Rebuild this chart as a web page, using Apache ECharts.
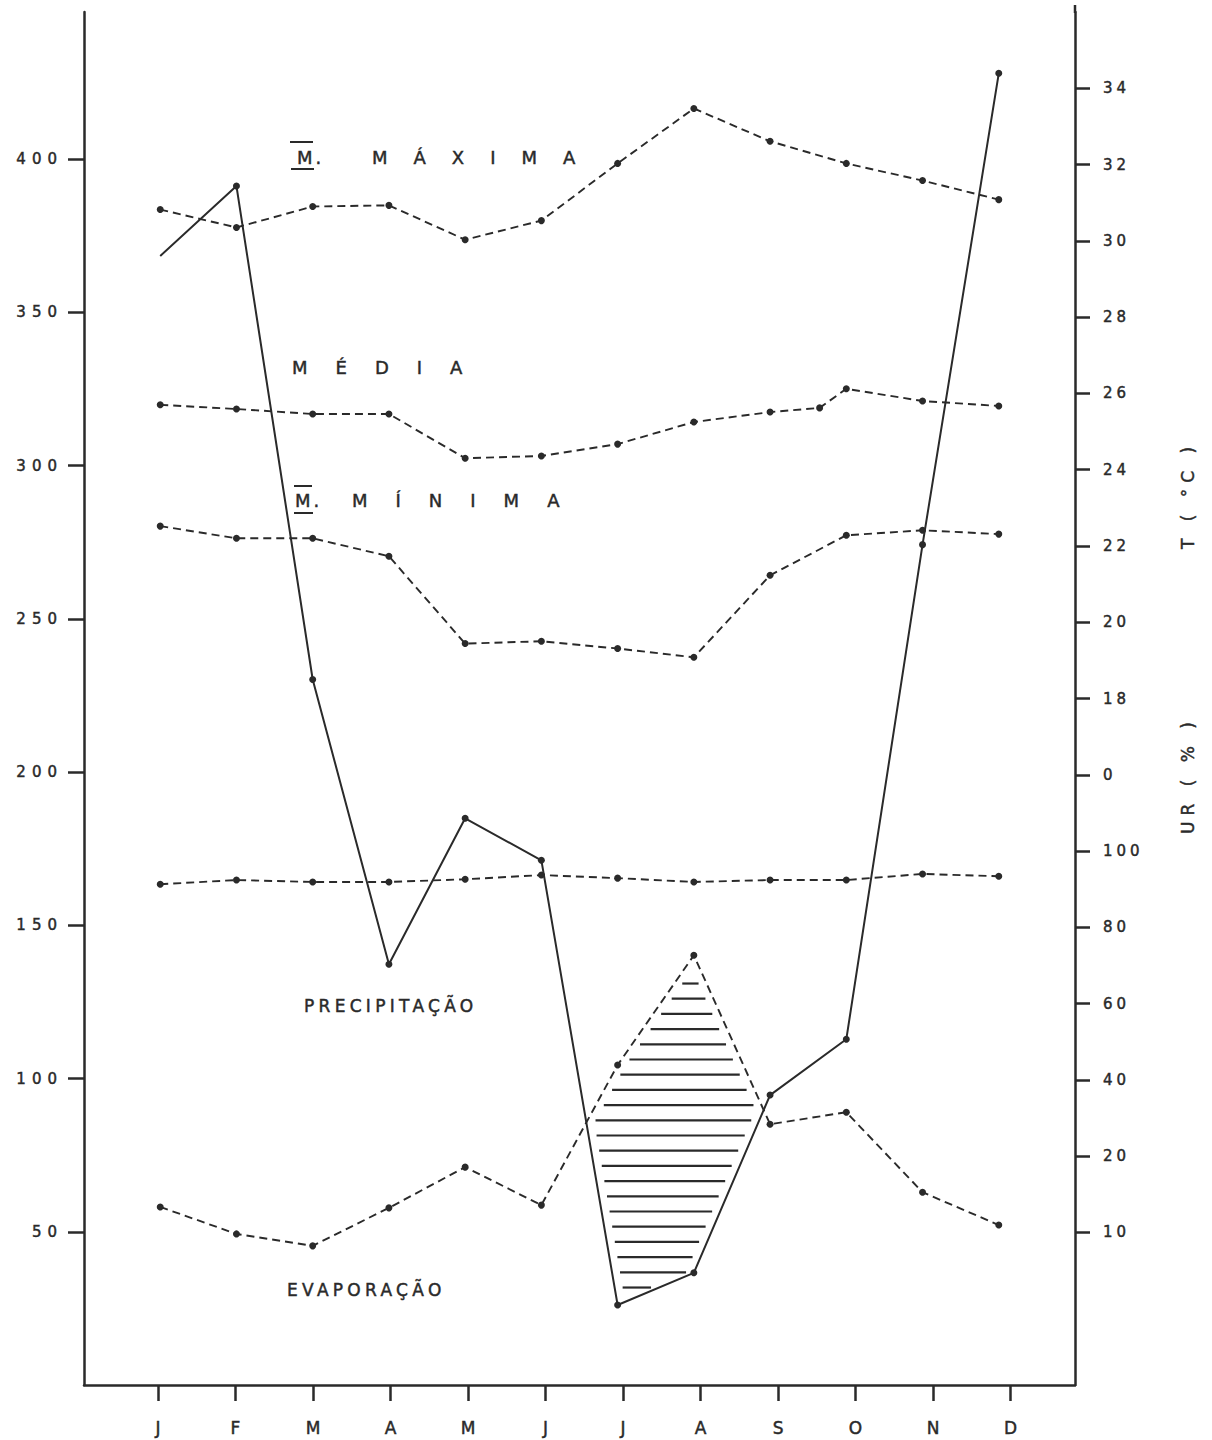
<!DOCTYPE html>
<html><head><meta charset="utf-8">
<script src="https://cdn.jsdelivr.net/npm/echarts@6/dist/echarts.min.js"></script>
<style>
html,body{margin:0;padding:0;background:#fff;}
#c{width:1212px;height:1440px;}
#c text{stroke:#2a2a2a;stroke-width:0.45px;}
#c text[style*="lsTickL"]{letter-spacing:6px;}
#c text[style*="lsTickR"]{letter-spacing:4px;}
#c text[style*="lsT26"]{letter-spacing:26px;}
#c text[style*="lsT28"]{letter-spacing:28px;}
#c text[style*="lsDot"]{letter-spacing:3px;}
#c text[style*="lsWord"]{letter-spacing:4.3px;}
#c text[style*="lsName"]{letter-spacing:6px;}
</style></head><body><div id="c"></div>
<script>
// ---- data ----
const months = ['J','F','M','A','M','J','J','A','S','O','N','D'];
const monthIdx = [0,1,2,3,4,5,6,7,8,9,10,11];
const precipitacao = [368.4, 391.2, 230.2, 137.3, 184.9, 171.2, 26.1, 36.6, 94.6, 112.8, 274.2, 428.0];
const evaporacao = [58.1, 49.3, 45.4, 57.8, 71.1, 58.7, 104.4, 140.2, 85.1, 89.0, 62.9, 52.2];
const tMaxima = [30.82, 30.35, 30.90, 30.93, 30.03, 30.53, 32.03, 33.47, 32.61, 32.03, 31.58, 31.08];
const tMediaMonth = [0, 1, 2, 3, 4, 5, 6, 7, 8, 8.65, 9, 10, 11];
const tMedia = [25.70, 25.59, 25.46, 25.46, 24.30, 24.36, 24.67, 25.25, 25.51, 25.62, 26.12, 25.80, 25.67];
const tMinima = [22.52, 22.20, 22.20, 21.73, 19.44, 19.50, 19.31, 19.08, 21.23, 22.28, 22.41, 22.31];
const umidade = [91.3, 92.4, 91.9, 91.9, 92.6, 93.7, 92.9, 91.9, 92.4, 92.4, 94.0, 93.4];
const leftTicks = [50, 100, 150, 200, 250, 300, 350, 400];
const rightTickValues = [34, 32, 30, 28, 26, 24, 22, 20, 18, 16, 14, 12, 10, 8, 6, 4];
const rightTickLabels = ['34','32','30','28','26','24','22','20','18','0','100','80','60','40','20','10'];

// ---- chart ----
const ink = '#2a2a2a';
const chart = echarts.init(document.getElementById('c'), null, {renderer: 'svg'});

function dashedSeries(name, data, yIdx) {
  return {
    type: 'line', name: name, data: data, xAxisIndex: 0, yAxisIndex: yIdx,
    symbol: 'circle', symbolSize: 7, itemStyle: {color: ink},
    lineStyle: {color: ink, width: 1.9, type: [8, 5]}, z: 3, silent: true
  };
}

function hatchRender(params, api) {
  const P = i => api.coord([i, precipitacao[i]]);
  const E = i => api.coord([i, evaporacao[i]]);
  function cross(a1, a2, b1, b2) {
    const d1 = [a2[0]-a1[0], a2[1]-a1[1]], d2 = [b2[0]-b1[0], b2[1]-b1[1]];
    const den = d1[0]*d2[1] - d1[1]*d2[0];
    const t = ((b1[0]-a1[0])*d2[1] - (b1[1]-a1[1])*d2[0]) / den;
    return [a1[0] + t*d1[0], a1[1] + t*d1[1]];
  }
  const polys = [];
  let cur = null;
  for (let i = 0; i < months.length; i++) {
    const d = evaporacao[i] - precipitacao[i];
    if (i > 0) {
      const dp = evaporacao[i-1] - precipitacao[i-1];
      if ((dp > 0) !== (d > 0)) {
        const X = cross(P(i-1), P(i), E(i-1), E(i));
        if (d > 0) { cur = {top: [X], bot: [X]}; }
        else if (cur) { cur.top.push(X); cur.bot.push(X); polys.push(cur); cur = null; }
      }
    } else if (d > 0) { cur = {top: [], bot: []}; }
    if (d > 0 && cur) { cur.top.push(E(i)); cur.bot.push(P(i)); }
  }
  if (cur) polys.push(cur);
  const children = [];
  polys.forEach(pg => {
    const pts = pg.top.concat(pg.bot.slice().reverse());
    let ymin = Infinity, ymax = -Infinity;
    pts.forEach(p => { ymin = Math.min(ymin, p[1]); ymax = Math.max(ymax, p[1]); });
    for (let y = ymin + 13; y < ymax - 6; y += 15.2) {
      const xs = [];
      for (let k = 0; k < pts.length; k++) {
        const a = pts[k], b = pts[(k+1) % pts.length];
        if ((a[1] <= y && y < b[1]) || (b[1] <= y && y < a[1])) {
          xs.push(a[0] + (y - a[1]) * (b[0] - a[0]) / (b[1] - a[1]));
        }
      }
      xs.sort((m, n) => m - n);
      for (let k = 0; k + 1 < xs.length; k += 2) {
        const x1 = xs[k] + 8, x2 = xs[k+1] - 8;
        if (x2 - x1 > 6) {
          children.push({type: 'line', shape: {x1: x1, y1: y, x2: x2, y2: y},
            style: {stroke: ink, lineWidth: 2.2}});
        }
      }
    }
  });
  return {type: 'group', children: children};
}

const precipData = precipitacao.map((v, i) => i === 0 ? {value: [i, v], symbol: 'none'} : [i, v]);

const option = {
  backgroundColor: '#ffffff',
  animation: false,
  grid: {left: 84, right: 137, top: 12, bottom: 55, containLabel: false, outerBoundsMode: 'none'},
  xAxis: [
    {type: 'value', gridIndex: 0, position: 'bottom', min: -1, max: 12,
      axisLine: {show: true, onZero: false, lineStyle: {color: ink, width: 2.5}},
      axisTick: {show: false}, axisLabel: {show: false}, splitLine: {show: false}},
    {type: 'value', gridIndex: 0, position: 'bottom', min: -0.955, max: 11.832,
      axisLine: {show: false, onZero: false},
      axisTick: {show: true, length: 16, customValues: monthIdx, lineStyle: {color: ink, width: 2.5}},
      axisLabel: {customValues: monthIdx, formatter: v => months[Math.round(v)] || '',
        margin: 34, fontSize: 17, color: ink, fontFamily: "'DejaVu Sans', lsNone"},
      splitLine: {show: false}}
  ],
  yAxis: [
    {type: 'value', gridIndex: 0, position: 'left', min: 0, max: 448,
      axisLine: {show: true, onZero: false, lineStyle: {color: ink, width: 2.5}},
      axisTick: {show: true, length: 16, customValues: leftTicks, lineStyle: {color: ink, width: 2.5}},
      axisLabel: {customValues: leftTicks, margin: 21, fontSize: 15, color: ink, fontFamily: "'DejaVu Sans', lsTickL"},
      splitLine: {show: false}},
    {type: 'value', gridIndex: 0, position: 'right', min: 0, max: 36,
      axisLine: {show: true, onZero: false, lineStyle: {color: ink, width: 2.5}},
      axisTick: {show: true, length: 15, customValues: rightTickValues, lineStyle: {color: ink, width: 2.5}},
      axisLabel: {customValues: rightTickValues, margin: 28, fontSize: 15, color: ink,
        fontFamily: "'DejaVu Sans', lsTickR",
        formatter: v => { const k = rightTickValues.findIndex(t => Math.abs(t - v) < 1e-6); return k >= 0 ? rightTickLabels[k] : ''; }},
      splitLine: {show: false}},
    {type: 'value', gridIndex: 0, position: 'right', min: -40, max: 320, show: false,
      axisLine: {onZero: false}}
  ],
  series: [
    {type: 'custom', name: 'deficit', xAxisIndex: 0, yAxisIndex: 0, data: [[0, 0]],
      renderItem: hatchRender, silent: true, z: 1, clip: false},
    {type: 'line', name: 'PRECIPITAÇÃO', data: precipData, xAxisIndex: 0, yAxisIndex: 0,
      symbol: 'circle', symbolSize: 7, itemStyle: {color: ink},
      lineStyle: {color: ink, width: 2}, z: 4, silent: true},
    dashedSeries('EVAPORAÇÃO', evaporacao.map((v, i) => [i, v]), 0),
    dashedSeries('M. MÁXIMA', tMaxima.map((v, i) => [i, v]), 1),
    dashedSeries('MÉDIA', tMedia.map((v, i) => [tMediaMonth[i], v]), 1),
    dashedSeries('M. MÍNIMA', tMinima.map((v, i) => [i, v]), 1),
    dashedSeries('UR', umidade.map((v, i) => [i, v]), 2)
  ],
  graphic: [
    {type: 'line', shape: {x1: 1075, y1: 5, x2: 1075, y2: 13}, style: {stroke: ink, lineWidth: 2.5}},
    // M. MÁXIMA
    {type: 'text', x: 297, y: 157, style: {text: 'M.', fill: ink, font: "18px 'DejaVu Sans', lsDot", textAlign: 'left', textVerticalAlign: 'middle'}},
    {type: 'line', shape: {x1: 290, y1: 142, x2: 313, y2: 142}, style: {stroke: ink, lineWidth: 2}},
    {type: 'line', shape: {x1: 291, y1: 169, x2: 314, y2: 169}, style: {stroke: ink, lineWidth: 2}},
    {type: 'text', x: 372, y: 157, style: {text: 'MÁXIMA', fill: ink, font: "18px 'DejaVu Sans', lsT26", textAlign: 'left', textVerticalAlign: 'middle'}},
    // MÉDIA
    {type: 'text', x: 292, y: 367, style: {text: 'MÉDIA', fill: ink, font: "18px 'DejaVu Sans', lsT28", textAlign: 'left', textVerticalAlign: 'middle'}},
    // M. MÍNIMA
    {type: 'text', x: 295, y: 500, style: {text: 'M.', fill: ink, font: "18px 'DejaVu Sans', lsDot", textAlign: 'left', textVerticalAlign: 'middle'}},
    {type: 'line', shape: {x1: 294, y1: 486, x2: 312, y2: 486}, style: {stroke: ink, lineWidth: 2}},
    {type: 'line', shape: {x1: 294, y1: 513, x2: 313, y2: 513}, style: {stroke: ink, lineWidth: 2}},
    {type: 'text', x: 352, y: 500, style: {text: 'MÍNIMA', fill: ink, font: "18px 'DejaVu Sans', lsT28", textAlign: 'left', textVerticalAlign: 'middle'}},
    // series names
    {type: 'text', x: 304, y: 1006, style: {text: 'PRECIPITAÇÃO', fill: ink, font: "17px 'DejaVu Sans', lsWord", textAlign: 'left', textVerticalAlign: 'middle'}},
    {type: 'text', x: 287, y: 1290, style: {text: 'EVAPORAÇÃO', fill: ink, font: "17px 'DejaVu Sans', lsWord", textAlign: 'left', textVerticalAlign: 'middle'}},
    // axis names (rotated)
    {type: 'text', x: 1188, y: 495, rotation: Math.PI / 2, style: {text: 'T ( °C )', fill: ink, font: "17px 'DejaVu Sans', lsName", textAlign: 'center', textVerticalAlign: 'middle'}},
    {type: 'text', x: 1188, y: 775, rotation: Math.PI / 2, style: {text: 'UR ( % )', fill: ink, font: "17px 'DejaVu Sans', lsName", textAlign: 'center', textVerticalAlign: 'middle'}}
  ]
};
chart.setOption(option);
</script></body></html>
